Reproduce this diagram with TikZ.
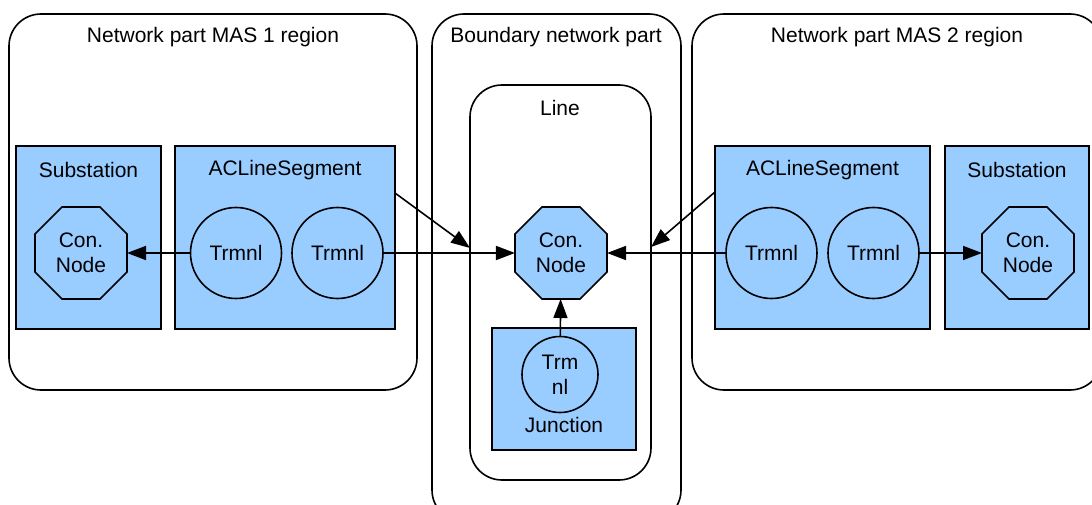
\documentclass[tikz,border=0pt]{standalone}
\usepackage{fontspec}
\setmainfont{Liberation Sans}
\usetikzlibrary{shapes.geometric,arrows.meta,calc}
\definecolor{boxblue}{HTML}{99CCFF}
\begin{document}
\begin{tikzpicture}[x=1pt,y=-1pt,
  font=\fontsize{21}{25}\selectfont,
  every node/.style={inner sep=0pt,outer sep=0pt},
  region/.style={draw,line width=1.6pt,rounded corners=32pt},
  group/.style={draw,line width=1.6pt,fill=boxblue},
  octnode/.style={draw,line width=1.6pt,fill=boxblue,regular polygon,
    regular polygon sides=8,minimum size=99.6pt,align=center},
  term/.style={draw,line width=1.6pt,fill=boxblue,circle,minimum size=91pt,align=center},
  conn/.style={draw,line width=1.6pt,-{Triangle[length=19pt,width=14pt]}}
]
\useasboundingbox (0,0) rectangle (1092,505);

% outer regions
\node[region,minimum width=408pt,minimum height=376pt] (mas1) at (213,202) {};
\node (mas1lbl) at (213,37) {Network part MAS 1 region};
\node[region,minimum width=249pt,minimum height=508pt] (bnd) at (556.5,268) {};
\node (bndlbl) at (556,37) {Boundary network part};
\node[region,minimum width=410pt,minimum height=376pt] (mas2) at (897,202) {};
\node (mas2lbl) at (897,37) {Network part MAS 2 region};

% line inside the boundary part
\node[region,minimum width=181pt,minimum height=395pt] (line) at (560.5,282.5) {};
\node (linelbl) at (560,108) {Line};

% left side groups
\node[group,minimum width=145pt,minimum height=183pt] (sub1) at (88.5,237.5) {};
\node (sub1lbl) at (88.5,170) {Substation};
\node[group,minimum width=220pt,minimum height=183pt] (acl1) at (285,237.5) {};
\node (acl1lbl) at (285,170) {ACLineSegment};

% right side groups
\node[group,minimum width=215pt,minimum height=183pt] (acl2) at (822.5,237.5) {};
\node (acl2lbl) at (822.5,170) {ACLineSegment};
\node[group,minimum width=144pt,minimum height=183pt] (sub2) at (1017,237.5) {};
\node (sub2lbl) at (1017,170) {Substation};

% junction
\node[group,minimum width=144pt,minimum height=122pt] (junc) at (564,389) {};
\node (junclbl) at (564,425) {Junction};

% connectivity nodes and terminals
\node[octnode] (cn1) at (81,253) {Con.\\Node};
\node[octnode] (cnc) at (561,253) {Con.\\Node};
\node[octnode] (cn2) at (1028,253) {Con.\\Node};
\node[term] (t1a) at (236,253) {Trmnl};
\node[term] (t1b) at (337.5,253) {Trmnl};
\node[term] (t2a) at (771.5,253) {Trmnl};
\node[term] (t2b) at (873.5,253) {Trmnl};
\node[term,minimum size=76pt] (tj) at (560,374.5) {Trm\\nl};

% connectors
\draw[conn] (t1a) -- (cn1);
\draw[conn] (t1b) -- (cnc);
\draw[conn] (t2a) -- (cnc);
\draw[conn] (t2b) -- (cn2);
\draw[conn] (tj) -- (cnc);
\coordinate (acl1out) at ($(acl1.north east)+(0,47)$);
\coordinate (line1in) at ($(line.north west)+(0,163)$);
\coordinate (acl2out) at ($(acl2.north west)+(0,46)$);
\coordinate (line2in) at ($(line.north east)+(0,162)$);
\draw[conn] (acl1out) -- (line1in);
\draw[conn] (acl2out) -- (line2in);
\end{tikzpicture}
\end{document}
